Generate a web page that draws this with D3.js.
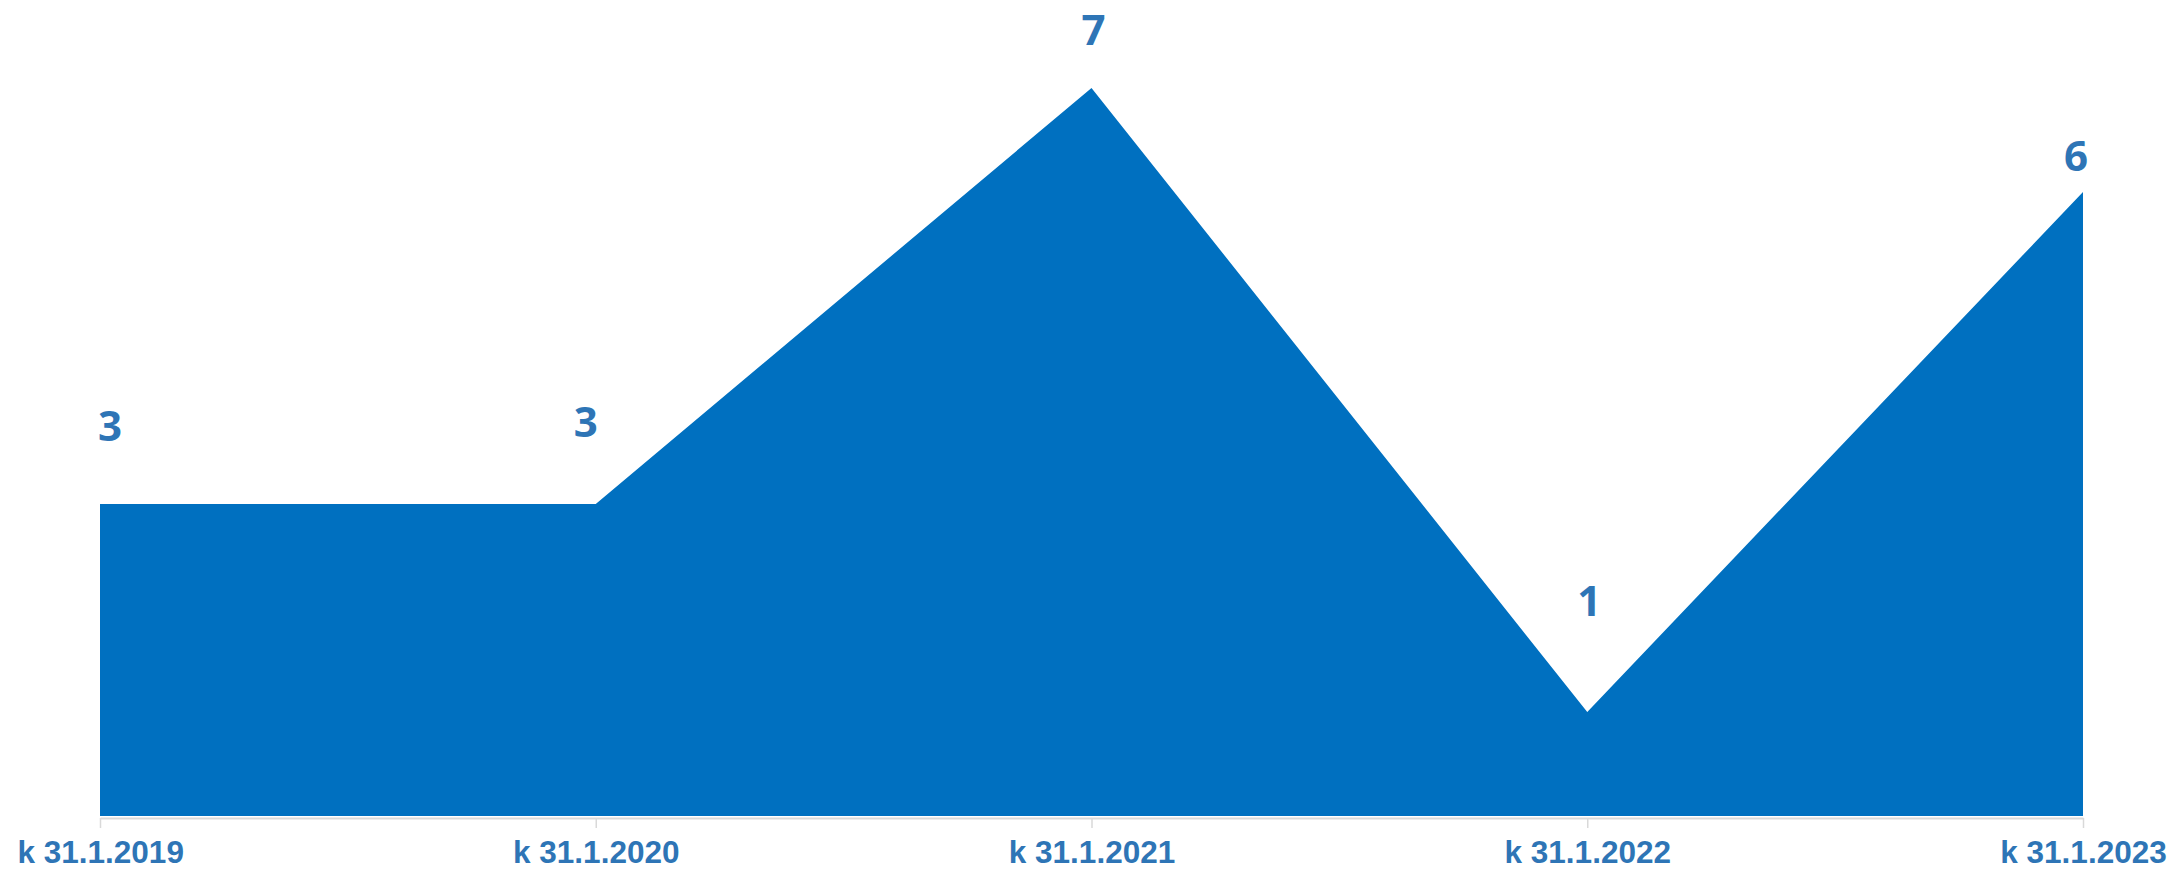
<!DOCTYPE html>
<html>
<head>
<meta charset="utf-8">
<script src="https://cdn.jsdelivr.net/npm/d3@7"></script>
<style>
  body { margin: 0; background: #fff; }
</style>
</head>
<body>
<div id="chart"></div>
<script>
// data
var categories = ["k 31.1.2019", "k 31.1.2020", "k 31.1.2021", "k 31.1.2022", "k 31.1.2023"];
var values = [3, 3, 7, 1, 6];

// label nudges (dx, dy in px) to mimic where the labels sit
var labelDx = [10, -10, 2, 2, -7];
var labelDy = [-80, -84, -60, -113, -38];

var W = 2171, H = 871;
var left = 100, right = 2083, base = 816;

var svg = d3.select("#chart").append("svg")
  .attr("width", W).attr("height", H);

var x = d3.scalePoint()
  .domain(categories)
  .range([left, right]);

var y = d3.scaleLinear()
  .domain([0, 7])
  .range([base, 88]);

var data = categories.map(function(c, i) { return {cat: c, v: values[i]}; });

// area
svg.append("path")
  .datum(data)
  .attr("fill", "#0070c0")
  .attr("d", d3.area()
    .x(function(d) { return x(d.cat); })
    .y0(y(0))
    .y1(function(d) { return y(d.v); }));

// x axis
var ax = svg.append("g")
  .attr("transform", "translate(0," + (base + 2) + ")")
  .call(d3.axisBottom(x).tickSize(10).tickSizeOuter(0).tickPadding(13));

ax.select(".domain").attr("stroke", "#d9d9d9").attr("stroke-width", 2);
ax.selectAll(".tick line").attr("stroke", "#d9d9d9").attr("stroke-width", 1.5);
ax.selectAll(".tick text")
  .attr("fill", "#2e75b6")
  .style("font-family", "'Liberation Sans', Arial, sans-serif")
  .style("font-weight", "bold")
  .style("font-size", "31.5px");

// first label is pushed in from the left edge, like the original
ax.selectAll(".tick text").filter(function(d, i) { return i === 0; })
  .attr("text-anchor", "start")
  .attr("x", 17 - left);

// value labels
svg.append("g").selectAll("text")
  .data(data)
  .enter().append("text")
  .attr("x", function(d, i) { return x(d.cat) + labelDx[i]; })
  .attr("y", function(d, i) { return y(d.v) + labelDy[i]; })
  .attr("text-anchor", "middle")
  .attr("dominant-baseline", "central")
  .attr("fill", "#2e75b6")
  .style("font-family", "'Open Sans', 'Noto Sans', sans-serif")
  .style("font-weight", "bold")
  .style("font-size", "42px")
  .text(function(d) { return d.v; });
</script>
</body>
</html>
